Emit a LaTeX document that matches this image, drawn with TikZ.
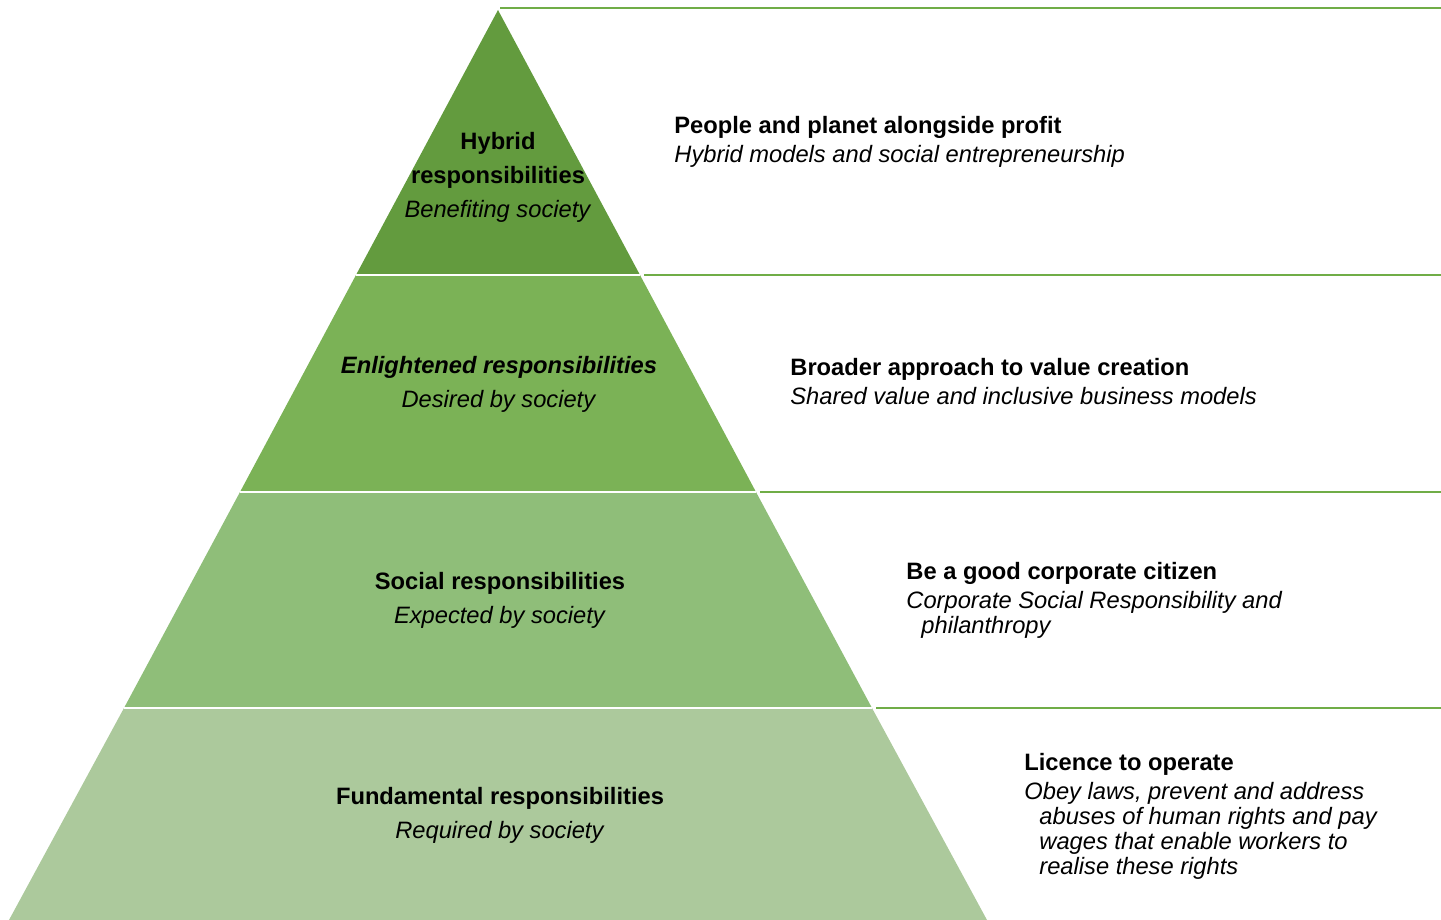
\documentclass[tikz,border=0pt]{standalone}
\usepackage{fontspec}
\setmainfont{Liberation Sans}
\usetikzlibrary{positioning}

\definecolor{tierA}{RGB}{99,155,62}
\definecolor{tierB}{RGB}{123,178,86}
\definecolor{tierC}{RGB}{143,190,121}
\definecolor{tierD}{RGB}{172,201,156}
\definecolor{rulegreen}{RGB}{112,173,71}

\begin{document}
\begin{tikzpicture}[x=0.5pt,y=-0.5pt,
    gap/.style={draw=white,line width=1pt},
    rule/.style={draw=rulegreen,line width=1pt},
    tierlabel/.style={align=center,font=\fontsize{11.85}{17}\selectfont},
    note/.style={align=left,anchor=north west,inner sep=0pt,font=\fontsize{11.85}{12.5}\selectfont},
]
    \useasboundingbox (0,0) rectangle (1441,920);

    %%%
    % pyramid corners
    \coordinate (apex) at (498,10);
    \coordinate (l1) at (356,275);  \coordinate (r1) at (640,275);
    \coordinate (l2) at (240,492);  \coordinate (r2) at (756,492);
    \coordinate (l3) at (124,708);  \coordinate (r3) at (872,708);
    \coordinate (l4) at (9,920);    \coordinate (r4) at (987,920);

    % tiers
    \fill[tierA] (apex) -- (r1) -- (l1) -- cycle;
    \fill[tierB] (l1) -- (r1) -- (r2) -- (l2) -- cycle;
    \fill[tierC] (l2) -- (r2) -- (r3) -- (l3) -- cycle;
    \fill[tierD] (l3) -- (r3) -- (r4) -- (l4) -- cycle;
    \draw[gap] (l1) -- (r1);
    \draw[gap] (l2) -- (r2);
    \draw[gap] (l3) -- (r3);

    % rules to the right
    \coordinate (e0) at (1441,8);
    \coordinate (e1) at (1441,275);
    \coordinate (e2) at (1441,492);
    \coordinate (e3) at (1441,708);
    \draw[rule] ([xshift=1pt]apex |- e0) -- (e0);
    \draw[rule] ([xshift=2pt]r1) -- (e1);
    \draw[rule] ([xshift=2pt]r2) -- (e2);
    \draw[rule] ([xshift=2pt]r3) -- (e3);

    %%%
    % tier labels
    \node[tierlabel] (hybrid) at (498,177) {\textbf{Hybrid}\\\textbf{responsibilities}\\\textit{Benefiting society}};
    \node[tierlabel] (enlightened) at (499,384) {\textbf{\textit{Enlightened responsibilities}}\\\textit{Desired by society}};
    \node[tierlabel] (social) at (500,600) {\textbf{Social responsibilities}\\\textit{Expected by society}};
    \node[tierlabel] (fundamental) at (500,815) {\textbf{Fundamental responsibilities}\\\textit{Required by society}};

    % notes
    \node[note] (planet) at (674,116) {\textbf{People and planet alongside profit}\\[2pt]\textit{Hybrid models and social entrepreneurship}};
    \node[note] (value) at (790,358) {\textbf{Broader approach to value creation}\\[2pt]\textit{Shared value and inclusive business models}};
    \node[note] (citizen) at (906,562) {\textbf{Be a good corporate citizen}\\[2pt]\textit{Corporate Social Responsibility and}\\\hspace*{7.5pt}\textit{philanthropy}};
    \node[note] (licence) at (1024,753) {\textbf{Licence to operate}\\[2pt]\textit{Obey laws, prevent and address}\\\hspace*{7.5pt}\textit{abuses of human rights and pay}\\\hspace*{7.5pt}\textit{wages that enable workers to}\\\hspace*{7.5pt}\textit{realise these rights}};

\end{tikzpicture}
\end{document}
